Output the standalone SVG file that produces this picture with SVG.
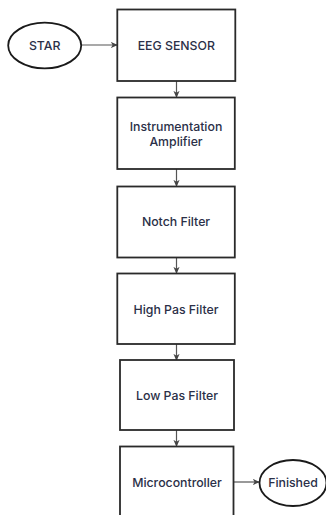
<svg xmlns="http://www.w3.org/2000/svg" width="326" height="515" viewBox="0 0 326 515">
<style>
.box{fill:#fff;stroke:#2a2a2a;stroke-width:1.8}
.term{fill:#fff;stroke:#1a1a1a;stroke-width:1.8}
.lbl{font-family:Inter,"Liberation Sans",sans-serif;font-size:12.3px;font-weight:500;fill:#2b3048;text-anchor:middle;dominant-baseline:central}
.conn{stroke:#555;stroke-width:1.2;fill:none;marker-end:url(#ah)}
</style>
<defs>
<marker id="ah" viewBox="0 0 8 8" refX="7" refY="4" markerWidth="7" markerHeight="7" markerUnits="userSpaceOnUse" orient="auto">
<path d="M0,0.5 L8,4 L0,7.5 L2,4 Z" fill="#444"/>
</marker>
</defs>
<rect width="326" height="515" fill="#fff"/>
<g id="connectors">
<line class="conn" x1="81.5" y1="45" x2="117" y2="45"/>
<line class="conn" x1="176.5" y1="81" x2="176.5" y2="97"/>
<line class="conn" x1="176.5" y1="169" x2="176.5" y2="186"/>
<line class="conn" x1="176.5" y1="258" x2="176.5" y2="273"/>
<line class="conn" x1="176.5" y1="344" x2="176.5" y2="360"/>
<line class="conn" x1="176.5" y1="430" x2="176.5" y2="446"/>
<line class="conn" x1="233.5" y1="482" x2="259" y2="482"/>
</g>
<g id="star">
<ellipse class="term" cx="44.7" cy="45.5" rx="36.5" ry="22.8"/>
<text class="lbl" x="44.7" y="45.5">STAR</text>
</g>
<g id="eeg">
<rect class="box" x="117.3" y="9.5" width="118" height="71.5"/>
<text class="lbl" x="176.3" y="45">EEG SENSOR</text>
</g>
<g id="instr">
<rect class="box" x="117.3" y="97.5" width="117.5" height="71.5"/>
<text class="lbl" x="176" y="126">Instrumentation</text>
<text class="lbl" x="176" y="141">Amplifier</text>
</g>
<g id="notch">
<rect class="box" x="117.3" y="186.5" width="117.5" height="71"/>
<text class="lbl" x="176" y="221.7">Notch Filter</text>
</g>
<g id="high">
<rect class="box" x="117.3" y="273.5" width="117.5" height="70.5"/>
<text class="lbl" x="176" y="309">High Pas Filter</text>
</g>
<g id="low">
<rect class="box" x="120" y="360" width="114" height="70"/>
<text class="lbl" x="177" y="395">Low Pas Filter</text>
</g>
<g id="micro">
<rect class="box" x="120" y="446.5" width="113.5" height="72"/>
<text class="lbl" x="177" y="482">Microcontroller</text>
</g>
<g id="finished">
<ellipse class="term" cx="293" cy="483" rx="33.5" ry="23"/>
<text class="lbl" x="293" y="482">Finished</text>
</g>
</svg>
